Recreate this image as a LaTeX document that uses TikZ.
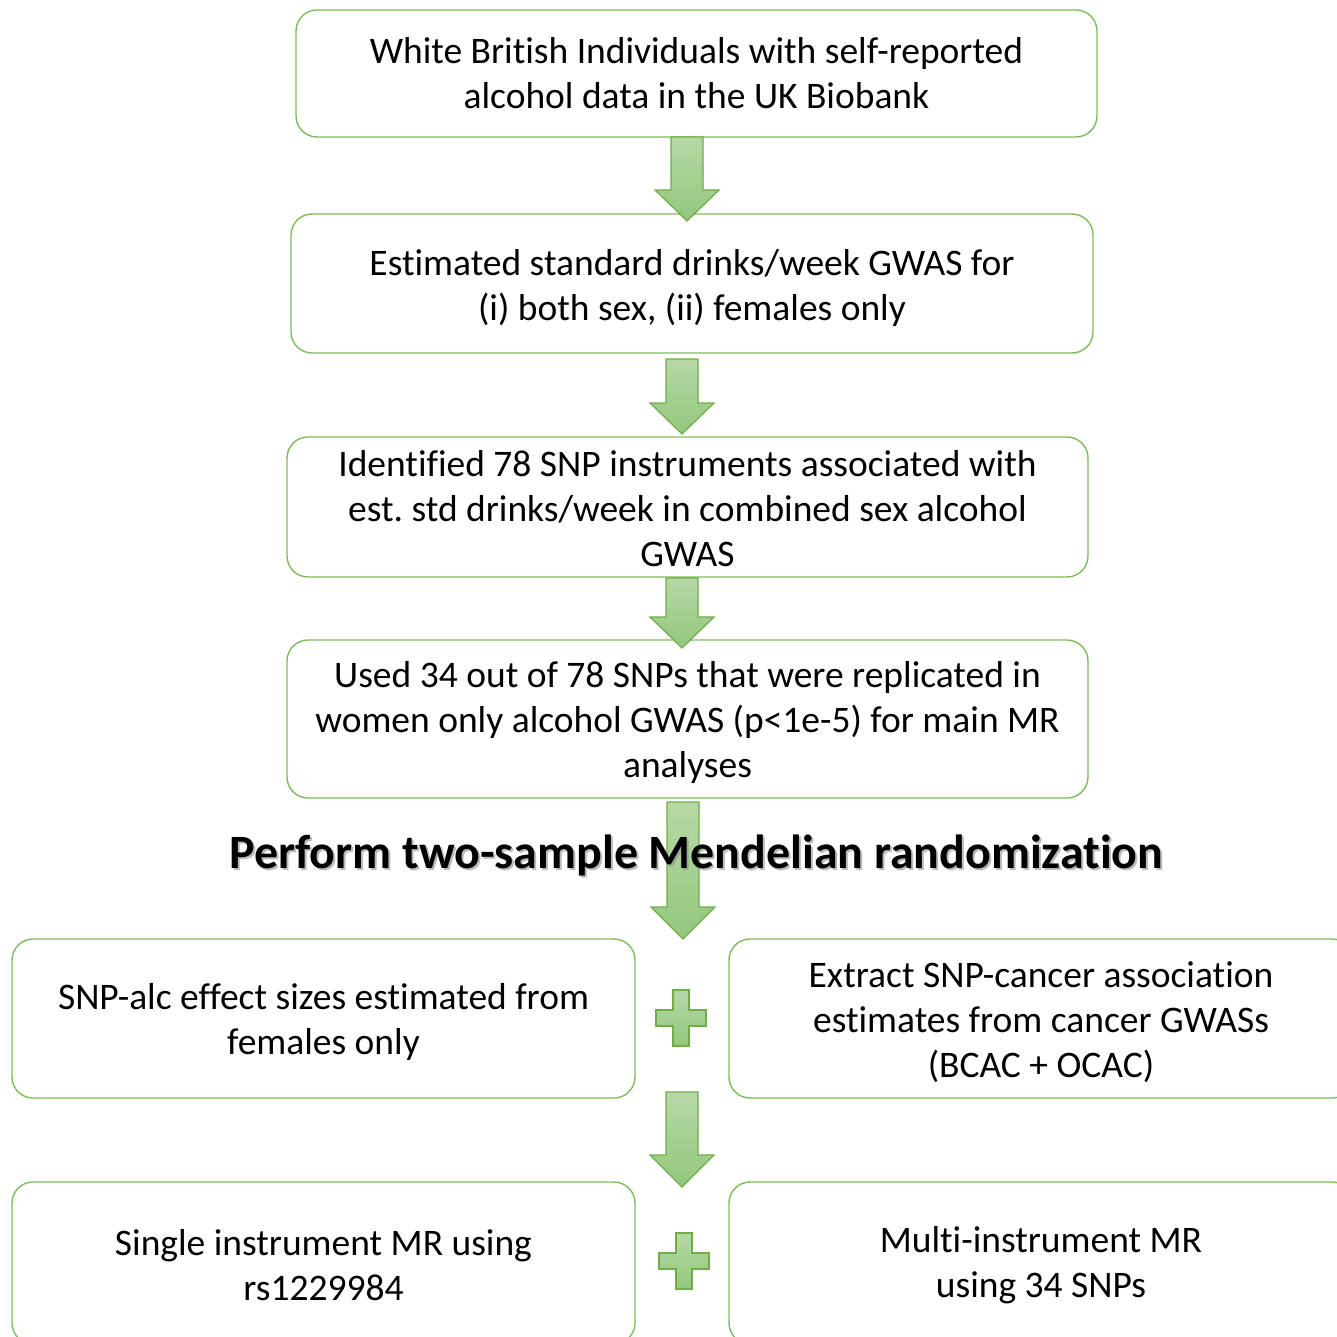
\documentclass[tikz,border=0pt]{standalone}
\usepackage{fontspec}
\setmainfont{Carlito}[Ligatures=NoCommon]
\usetikzlibrary{calc}
\frenchspacing
\definecolor{boxgreen}{HTML}{7DBB5B}
\definecolor{arrowedge}{HTML}{70AD47}
\definecolor{arrowtop}{HTML}{B7D8A6}
\definecolor{arrowbot}{HTML}{93C77D}
\newcommand{\blockarrow}[4]{%
  \draw[arrowstyle] (#1-16,#2) -- (#1+16,#2) -- (#1+16,#3) -- (#1+32,#3) -- (#1,#4) -- (#1-32,#3) -- (#1-16,#3) -- cycle;}
\newcommand{\plussign}[2]{%
  \draw[arrowstyle] (#1-8,#2-28) -- (#1+8,#2-28) -- (#1+8,#2-8) -- (#1+25,#2-8) -- (#1+25,#2+8) -- (#1+8,#2+8) -- (#1+8,#2+28) -- (#1-8,#2+28) -- (#1-8,#2+8) -- (#1-25,#2+8) -- (#1-25,#2-8) -- (#1-8,#2-8) -- cycle;}
\begin{document}
\begin{tikzpicture}[x=1pt,y=-1pt,
  box/.style={draw=boxgreen, line width=1.4pt, rounded corners=21pt, inner sep=0pt},
  boxtext/.style={align=center, inner sep=0pt, font=\fontsize{37.5}{45}\selectfont, text=black},
  arrowstyle/.style={draw=arrowedge, line width=1.2pt, top color=arrowtop, bottom color=arrowbot},
  titlestyle/.style={font=\fontsize{47.9}{52}\selectfont\bfseries, inner sep=0pt}]
\useasboundingbox (0,0) rectangle (1337,1336);
\clip (0,0) rectangle (1337,1336);
\node[box, minimum width=801pt, minimum height=127pt] (b1) at (696.5,73.5) {};
\node[box, minimum width=802pt, minimum height=139pt] (b2) at (692,283.5) {};
\node[box, minimum width=801pt, minimum height=140pt] (b3) at (687.5,507) {};
\node[box, minimum width=801pt, minimum height=158pt] (b4) at (687.5,719) {};
\node[box, minimum width=623pt, minimum height=159pt] (b5) at (323.5,1018.5) {};
\node[box, minimum width=624pt, minimum height=159pt] (b6) at (1041,1018.5) {};
\node[box, minimum width=623pt, minimum height=162pt] (b7) at (323.5,1263) {};
\node[box, minimum width=624pt, minimum height=162pt] (b8) at (1041,1263) {};
\node[boxtext] (t1) at (b1.center) {White British Individuals with self-reported\\alcohol data in the UK Biobank};
\node[boxtext] (t2) at ($(b2.center)+(0,4)$) {Estimated standard drinks/week GWAS for\\(i) both sex, (ii) females only};
\node[boxtext] (t3) at ($(b3.center)+(0,1.5)$) {Identified 78 SNP instruments associated with\\est.\ std drinks/week in combined sex alcohol\\GWAS};
\node[boxtext] (t4) at ($(b4.center)+(0,3.5)$) {Used 34 out of 78 SNPs that were replicated in\\women only alcohol GWAS (p<1e-5) for main MR\\analyses};
\node[boxtext] (t5) at ($(b5.center)+(0,3)$) {SNP-alc effect sizes estimated from\\females only};
\node[boxtext] (t6) at ($(b6.center)+(0,3.5)$) {Extract SNP-cancer association\\estimates from cancer GWASs\\(BCAC + OCAC)};
\node[boxtext] (t7) at ($(b7.center)+(0,2.5)$) {Single instrument MR using\\rs1229984};
\node[boxtext] (t8) at ($(b8.center)+(0,2.5)$) {Multi-instrument MR\\using 34 SNPs};
\blockarrow{687}{137}{190}{221}
\blockarrow{682}{359}{403}{434}
\blockarrow{682}{578}{617}{648}
\blockarrow{683}{802}{907}{939}
\blockarrow{682}{1092}{1155}{1187}
\plussign{681}{1018}
\plussign{684}{1261}
\node[titlestyle, text=black!45, opacity=0.6] (tshadow) at (698.5,857.5) {Perform two-sample Mendelian randomization};
\node[titlestyle] (title) at (696.5,855.5) {Perform two-sample Mendelian randomization};
\end{tikzpicture}
\end{document}
